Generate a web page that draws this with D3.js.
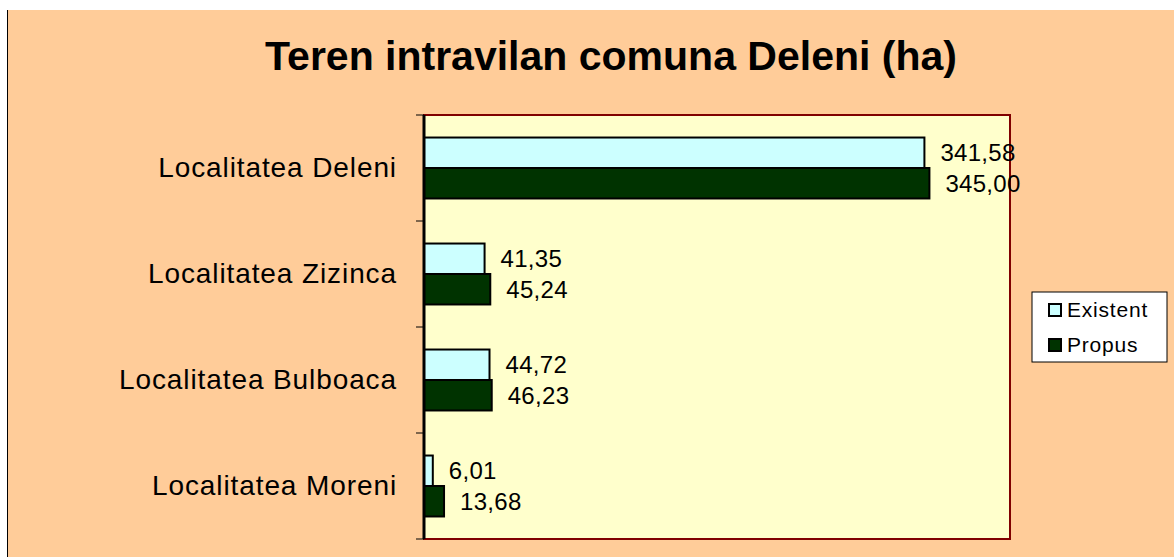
<!DOCTYPE html>
<html>
<head>
<meta charset="utf-8">
<script src="https://cdn.jsdelivr.net/npm/d3@7"></script>
<style>
  body { margin: 0; background: #fff; }
  svg { display: block; font-family: "Liberation Sans", Arial, sans-serif; }
</style>
</head>
<body>
<div id="chart"></div>
<script>
// data
const categories = ["Localitatea Deleni", "Localitatea Zizinca", "Localitatea Bulboaca", "Localitatea Moreni"];
const seriesNames = ["Existent", "Propus"];
const existent = [341.58, 41.35, 44.72, 6.01];
const propus = [345.00, 45.24, 46.23, 13.68];
const seriesColors = ["#CCFFFF", "#003300"];

const width = 1174, height = 557;
const plot = { left: 424, right: 1010, top: 115, bottom: 539 };

const svg = d3.select("#chart").append("svg")
  .attr("width", width)
  .attr("height", height);

// chart area background
svg.append("rect")
  .attr("x", 7).attr("y", 10)
  .attr("width", width - 7).attr("height", height - 10)
  .attr("fill", "#FFCC99");
svg.append("line")
  .attr("x1", 7.5).attr("x2", 7.5)
  .attr("y1", 10).attr("y2", height)
  .attr("stroke", "#000").attr("stroke-width", 1);

// title
svg.append("text")
  .attr("x", 611).attr("y", 70)
  .attr("text-anchor", "middle")
  .attr("font-size", 41)
  .attr("font-weight", "bold")
  .text("Teren intravilan comuna Deleni (ha)");

// scales
const x = d3.scaleLinear().domain([0, 400]).range([plot.left, plot.right]);
const y = d3.scaleBand().domain(categories)
  .range([plot.top, plot.bottom])
  .paddingInner(0.425).paddingOuter(0.2125);
const ySub = d3.scaleBand().domain(seriesNames).range([0, y.bandwidth()]);

// plot area
svg.append("rect")
  .attr("x", plot.left).attr("y", plot.top)
  .attr("width", plot.right - plot.left)
  .attr("height", plot.bottom - plot.top)
  .attr("fill", "#FFFFCC")
  .attr("stroke", "#800000")
  .attr("stroke-width", 2);

const rows = categories.map((c, i) => ({ cat: c, values: [existent[i], propus[i]] }));

const groups = svg.selectAll("g.cat")
  .data(rows)
  .join("g")
  .attr("class", "cat")
  .attr("transform", d => `translate(0,${y(d.cat)})`);

groups.selectAll("rect")
  .data(d => d.values.map((v, j) => ({ name: seriesNames[j], value: v, color: seriesColors[j] })))
  .join("rect")
  .attr("x", x(0))
  .attr("y", d => ySub(d.name))
  .attr("width", d => x(d.value) - x(0))
  .attr("height", ySub.bandwidth())
  .attr("fill", d => d.color)
  .attr("stroke", "#000")
  .attr("stroke-width", 2);

const fmt = v => v.toFixed(2).replace(".", ",");
groups.selectAll("text")
  .data(d => d.values.map((v, j) => ({ name: seriesNames[j], value: v })))
  .join("text")
  .attr("x", d => x(d.value) + 16)
  .attr("y", d => ySub(d.name) + ySub.bandwidth() / 2)
  .attr("dy", "0.35em")
  .attr("font-size", 24)
  .attr("letter-spacing", 0.3)
  .text(d => fmt(d.value));

// category axis
const yAxis = d3.axisLeft(y).tickSize(0).tickPadding(27);
const ag = svg.append("g")
  .attr("transform", `translate(${plot.left},0)`)
  .call(yAxis);
ag.select(".domain").remove();
ag.selectAll("text")
  .attr("font-size", 28)
  .attr("font-family", null)
  .attr("letter-spacing", 0.9)
  .attr("fill", "#000");

// tick marks between categories
const boundaries = [plot.top].concat(categories.map(c => y(c) + y.bandwidth() + y.step() * y.paddingInner() / 2));
boundaries[boundaries.length - 1] = plot.bottom;
svg.selectAll("line.tick-mark")
  .data(boundaries)
  .join("line")
  .attr("class", "tick-mark")
  .attr("x1", plot.left - 8).attr("x2", plot.left)
  .attr("y1", d => d).attr("y2", d => d)
  .attr("stroke", "#000").attr("stroke-width", 1);

svg.append("line")
  .attr("x1", plot.left).attr("x2", plot.left)
  .attr("y1", plot.top).attr("y2", plot.bottom)
  .attr("stroke", "#000").attr("stroke-width", 3);

// legend
const lg = svg.append("g").attr("transform", "translate(1032,292)");
lg.append("rect")
  .attr("width", 135).attr("height", 70)
  .attr("fill", "#fff").attr("stroke", "#000").attr("stroke-width", 1);
seriesNames.forEach((name, i) => {
  const yy = 18 + i * 35;
  lg.append("rect")
    .attr("x", 17).attr("y", yy - 6)
    .attr("width", 12).attr("height", 12)
    .attr("fill", seriesColors[i])
    .attr("stroke", "#000").attr("stroke-width", 2);
  lg.append("text")
    .attr("x", 35).attr("y", yy)
    .attr("dy", "0.35em")
    .attr("font-size", 21)
    .attr("letter-spacing", 0.8)
    .text(name);
});
</script>
</body>
</html>
